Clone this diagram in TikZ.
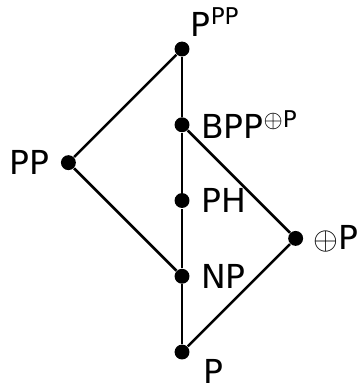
\documentclass[tikz,border=0pt]{standalone}
\usepackage{fontspec}
\setmainfont{DejaVu Sans}
\begin{document}
\begin{tikzpicture}[dot/.style={circle,fill=black,inner sep=0pt,minimum size=5.6pt},
  every label/.style={font=\fontsize{12.4}{14}\selectfont,inner sep=4pt},
  edge/.style={line width=0.95pt}]
\useasboundingbox (-2.403,-0.422) rectangle (2.297,4.647);

\node [dot,label={[anchor=north west,inner sep=0.4pt,xshift=5.4pt]south east:P}] (p) at (0,0) {};
\node [dot,label=right:NP] (np) at (0,1) {};
\node [dot,label=right:PH] (ph) at (0,2) {};
\node [dot,label=right:BPP\textsuperscript{$\oplus$P}] (bpp) at (0,3) {};
\node [dot,label={[anchor=south west,inner xsep=1pt,inner ysep=2.4pt]north east:P\textsuperscript{PP}}] (ppp) at (0,4) {};
\node [dot,label=left:PP] (pp) at (-1.5,2.5) {};
\node [dot,label={[inner sep=3.5pt]right:$\oplus$P}] (xorp) at (1.5,1.5) {};

\draw [edge] (p) -- (np) -- (ph) -- (bpp) -- (ppp);
\draw [edge] (ppp) -- (pp) -- (np);
\draw [edge] (bpp) -- (xorp) -- (p);

\end{tikzpicture}
\end{document}
